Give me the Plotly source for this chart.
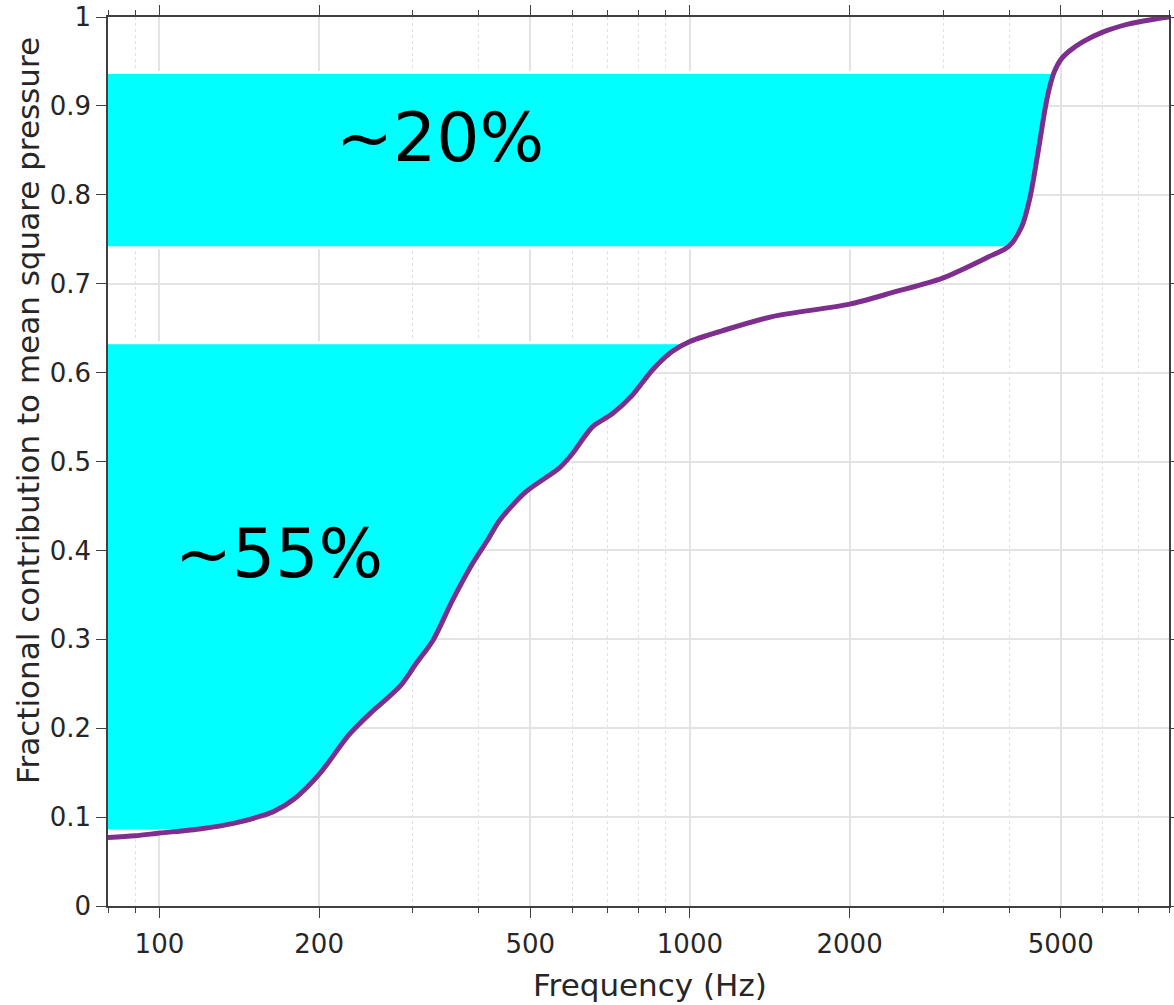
import numpy as np
import plotly.graph_objects as go

# Cumulative fractional contribution to mean square pressure vs frequency
freq_hz = [80, 90, 100, 120, 138, 155, 165, 180, 200, 228, 250, 284, 305, 328,
           357, 390, 416, 438, 491, 567, 601, 655, 715, 780, 850, 927, 1000,
           1150, 1430, 2000, 2440, 2985, 3650, 3990, 4220, 4380, 4540, 4670,
           4760, 4860, 5000, 5200, 5500, 6000, 6700, 7400, 8000]
fraction = [0.077, 0.079, 0.082, 0.087, 0.093, 0.101, 0.107, 0.121, 0.148,
            0.193, 0.217, 0.247, 0.273, 0.299, 0.344, 0.386, 0.412, 0.434,
            0.466, 0.4925, 0.509, 0.539, 0.554, 0.575, 0.603, 0.624, 0.635,
            0.647, 0.663, 0.677, 0.691, 0.706, 0.730, 0.742, 0.764, 0.798,
            0.851, 0.896, 0.920, 0.938, 0.952, 0.962, 0.972, 0.983, 0.992,
            0.997, 1.0]

# Shaded bands (fraction limits) and their labels
band_low = [0.0845, 0.7405]
band_high = [0.6335, 0.9375]
band_labels = ["~55%", "~20%"]

x_major = [100, 200, 500, 1000, 2000, 5000]
x_minor = [80, 90, 300, 400, 600, 700, 800, 900, 3000, 4000, 6000, 7000, 8000]
y_ticks = [0, 0.1, 0.2, 0.3, 0.4, 0.5, 0.6, 0.7, 0.8, 0.9, 1]
y_ticktext = ["0", "0.1", "0.2", "0.3", "0.4", "0.5", "0.6", "0.7", "0.8", "0.9", "1"]

F_MIN, F_MAX = 80, 8000

f_arr = np.array(freq_hz, dtype=float)
v_arr = np.array(fraction, dtype=float)
logf = np.log10(f_arr)

fig = go.Figure()


def band_polygon(lo, hi):
    x_lo = 10 ** np.interp(lo, v_arr, logf)
    x_hi = 10 ** np.interp(hi, v_arr, logf)
    mask = (v_arr > lo) & (v_arr < hi)
    xs = [F_MIN * 0.9, x_lo] + list(f_arr[mask]) + [x_hi, F_MIN * 0.9]
    ys = [lo, lo] + list(v_arr[mask]) + [hi, hi]
    return xs, ys


for lo, hi in zip(band_low, band_high):
    xs, ys = band_polygon(lo, hi)
    fig.add_trace(go.Scatter(
        x=xs, y=ys, mode="lines", fill="toself", fillcolor="#00FFFF",
        line=dict(color="white", width=3), hoverinfo="skip", showlegend=False))

fig.add_trace(go.Scatter(
    x=freq_hz, y=fraction, mode="lines",
    line=dict(color="#7E2F8E", width=5, shape="spline", smoothing=0.8),
    showlegend=False))

FONT = "DejaVu Sans, Verdana, sans-serif"
axis_color = "#404040"

fig.update_xaxes(
    type="log", range=[np.log10(F_MIN), np.log10(F_MAX)],
    tickmode="array", tickvals=x_major, ticktext=[str(v) for v in x_major],
    ticks="outside", ticklen=10, tickwidth=1, tickcolor=axis_color,
    showline=True, linecolor=axis_color, linewidth=1.5, mirror="ticks",
    showgrid=True, gridcolor="#E3E3E3", gridwidth=1.5, zeroline=False,
    automargin=False, ticklabelstandoff=4,
    tickfont=dict(family=FONT, size=26, color="#262626"),
    minor=dict(tickmode="array", tickvals=x_minor, ticks="outside", ticklen=5,
               tickcolor=axis_color, showgrid=True, gridcolor="#E0E0E0",
               griddash="dot", gridwidth=1),
)
fig.update_yaxes(
    range=[0, 1], tickmode="array", tickvals=y_ticks, ticktext=y_ticktext,
    ticks="outside", ticklen=10, tickwidth=1, tickcolor=axis_color,
    showline=True, linecolor=axis_color, linewidth=1.5, mirror="ticks",
    showgrid=True, gridcolor="#E3E3E3", gridwidth=1.5, zeroline=False,
    automargin=False,
    tickfont=dict(family=FONT, size=26, color="#262626"),
)

# Axis titles
fig.add_annotation(text="Frequency (Hz)", xref="paper", yref="paper",
                   x=0.5108, y=-0.0889, showarrow=False,
                   xanchor="center", yanchor="middle",
                   font=dict(family=FONT, size=31, color="#262626"))
fig.add_annotation(text="Fractional contribution to mean square pressure",
                   xref="paper", yref="paper", x=-0.0754, y=0.5568,
                   showarrow=False, textangle=-90,
                   xanchor="center", yanchor="middle",
                   font=dict(family=FONT, size=31, color="#262626"))

# Band labels
label_pos = [(0.1612, 0.396), (0.3129, 0.8645)]
for txt, (px, py) in zip(band_labels, label_pos):
    fig.add_annotation(text=txt, xref="paper", yref="paper", x=px, y=py,
                       showarrow=False, xanchor="center", yanchor="middle",
                       font=dict(family=FONT, size=68, color="black"))

fig.update_layout(
    width=1174, height=1005,
    margin=dict(l=108, r=5, t=17, b=99, autoexpand=False),
    paper_bgcolor="white", plot_bgcolor="white",
    showlegend=False,
)

fig.write_html("out.html")
